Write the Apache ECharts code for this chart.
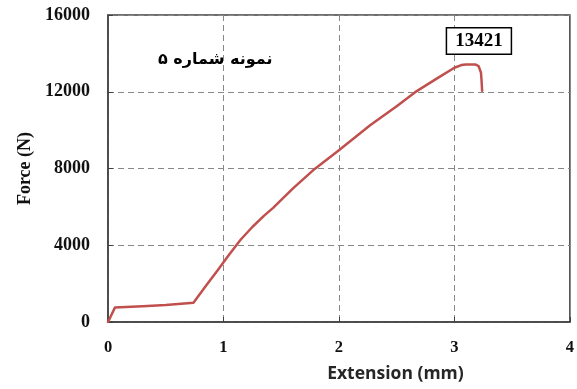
<!DOCTYPE html>
<html>
<head>
<meta charset="utf-8">
<script src="https://cdn.jsdelivr.net/npm/echarts@6/dist/echarts.min.js"></script>
<style>html,body{margin:0;padding:0;background:#fff}#c{width:577px;height:389px}</style>
</head>
<body>
<div id="c"></div>
<script>
const extension = [0, 0.06, 0.3, 0.5, 0.74, 0.85, 0.95, 1.05, 1.15, 1.25, 1.35, 1.43, 1.6, 1.79, 2.0, 2.27, 2.5, 2.66, 2.85, 3.0, 3.06, 3.1, 3.18, 3.21, 3.23, 3.235, 3.24];
const force     = [0, 750, 820, 880, 1000, 1900, 2700, 3520, 4300, 4950, 5530, 5950, 6950, 7980, 8950, 10250, 11250, 11980, 12700, 13250, 13390, 13421, 13421, 13330, 13000, 12600, 12050];
const peakLabel = '13421';
const peakPoint = [3.13, 13421];
const sampleTitle = 'نمونه شماره ۵';
const xTicks = [0, 1, 2, 3, 4];
const yTicks = [0, 4000, 8000, 12000, 16000];

const chart = echarts.init(document.getElementById('c'));
const serif = '"Liberation Serif", "Times New Roman", serif';
chart.setOption({
  animation: false,
  grid: {left: 108, right: 7, top: 15, bottom: 67, show: true, borderColor: '#404040', borderWidth: 1.5, backgroundColor: 'transparent'},
  xAxis: {
    type: 'value', min: xTicks[0], max: xTicks[xTicks.length - 1], interval: 1,
    name: 'Extension (mm)', nameLocation: 'middle', nameGap: 43,
    nameTextStyle: {fontFamily: '"Open Sans", "Liberation Sans", sans-serif', fontWeight: 'bold', fontSize: 17.5, color: '#262626', padding: [0, 0, 0, 113]},
    axisLine: {lineStyle: {color: '#404040', width: 1.5}},
    axisTick: {inside: true, length: 5, lineStyle: {color: '#404040'}},
    axisLabel: {margin: 17, fontFamily: serif, fontWeight: 'bold', fontSize: 16.5, color: '#111', formatter: v => String(v)},
    splitLine: {show: true, lineStyle: {color: '#888', type: [6, 4], width: 1}}
  },
  yAxis: {
    type: 'value', min: yTicks[0], max: yTicks[yTicks.length - 1], interval: 4000,
    name: 'Force (N)', nameLocation: 'middle', nameGap: 74,
    nameTextStyle: {fontFamily: serif, fontWeight: 'bold', fontSize: 18, color: '#111'},
    axisLine: {lineStyle: {color: '#404040', width: 1.5}},
    axisTick: {inside: true, length: 5, lineStyle: {color: '#404040'}},
    axisLabel: {margin: 18, fontFamily: serif, fontWeight: 'bold', fontSize: 18, color: '#111', formatter: v => String(v)},
    splitLine: {show: true, lineStyle: {color: '#888', type: [6, 4], width: 1}}
  },
  series: [{
    type: 'line',
    data: extension.map((x, i) => [x, force[i]]),
    showSymbol: false, smooth: false,
    lineStyle: {color: '#c0504d', width: 2.5, join: 'round', cap: 'round'},
    markPoint: {
      symbol: 'rect', symbolSize: 0,
      data: [{coord: peakPoint, value: peakLabel}],
      label: {
        show: true, formatter: peakLabel, offset: [9.5, -23.5],
        fontFamily: serif, fontWeight: 'bold', fontSize: 19, color: '#000',
        backgroundColor: '#fff', borderColor: '#000', borderWidth: 1.5,
        padding: [4, 8, 2, 8]
      }
    }
  }],
  graphic: [{
    type: 'text', left: 158, top: 52,
    style: {text: sampleTitle, font: 'bold 16px "DejaVu Sans", sans-serif', fill: '#000'}
  }]
});
</script>
</body>
</html>
